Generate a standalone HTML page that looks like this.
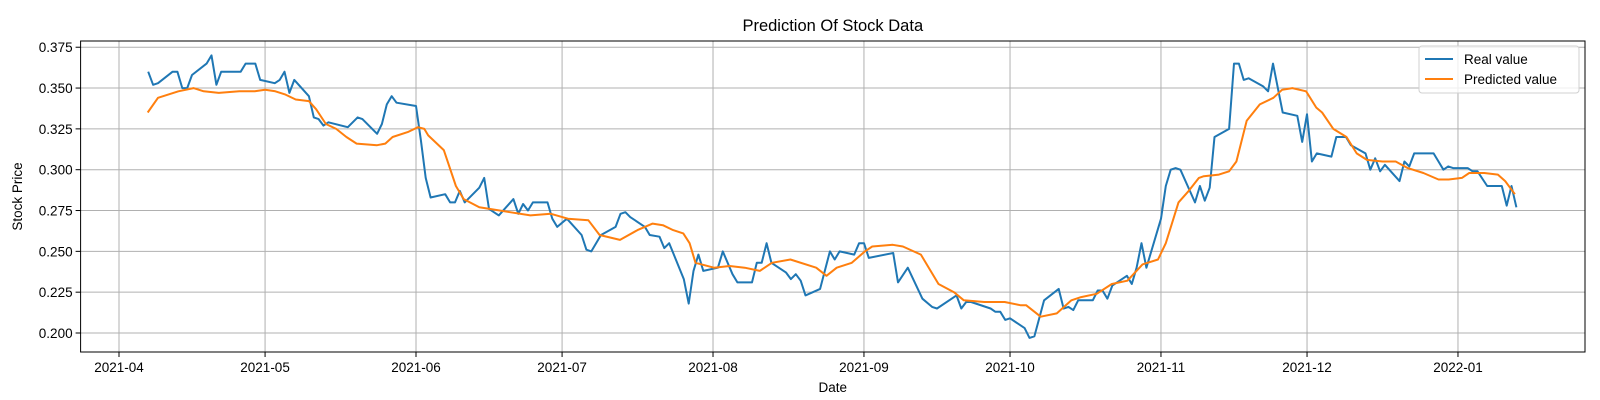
<!DOCTYPE html>
<html><head><meta charset="utf-8"><style>
html,body{margin:0;padding:0;background:#fff;}
svg{display:block;font-family:"Liberation Sans","DejaVu Sans",sans-serif;}
</style></head><body>
<svg id="chart" width="1600" height="400" viewBox="0 0 1600 400" xmlns="http://www.w3.org/2000/svg"></svg>
<script>
const startDate = "2021-04-01";
const monthTicks = ["2021-04","2021-05","2021-06","2021-07","2021-08","2021-09","2021-10","2021-11","2021-12","2022-01"];
const monthTickDays = [0,30,61,91,122,153,183,214,244,275];
const yTicks = [0.200,0.225,0.250,0.275,0.300,0.325,0.350,0.375];
const realDays = [6,7,8,11,12,13,14,15,18,19,20,21,25,26,28,29,32,33,34,35,36,39,40,41,42,43,47,49,50,53,54,55,56,57,61,62,63,64,67,68,69,70,71,74,75,76,78,81,82,83,84,85,88,89,90,92,95,96,97,99,102,103,104,105,106,108,109,111,112,113,116,117,118,119,120,123,124,126,127,130,131,132,133,134,137,138,139,140,141,144,146,147,148,151,152,153,154,159,160,162,165,167,168,172,173,174,175,179,180,181,182,183,186,187,188,190,193,194,195,196,197,200,201,202,203,204,207,208,209,210,211,214,215,216,217,218,221,222,223,224,225,228,229,230,231,232,235,236,237,239,242,243,244,245,246,249,250,252,253,256,257,258,259,260,263,264,265,266,270,271,272,273,274,277,278,279,281,284,285,286,287];
const realValues = [.360,.352,.353,.360,.360,.350,.350,.358,.365,.370,.352,.360,.360,.365,.365,.355,.353,.355,.360,.347,.355,.345,.332,.331,.327,.329,.326,.332,.331,.322,.328,.340,.345,.341,.339,.318,.295,.283,.285,.280,.280,.287,.280,.289,.295,.276,.272,.282,.273,.279,.275,.280,.280,.270,.265,.270,.260,.251,.250,.260,.265,.273,.274,.271,.269,.265,.260,.259,.252,.255,.233,.218,.238,.248,.238,.240,.250,.236,.231,.231,.243,.243,.255,.243,.237,.233,.236,.232,.223,.227,.250,.245,.250,.248,.255,.255,.246,.249,.231,.240,.221,.216,.215,.223,.215,.219,.219,.215,.213,.213,.208,.209,.203,.197,.198,.220,.227,.215,.216,.214,.220,.220,.226,.226,.221,.229,.235,.230,.240,.255,.240,.270,.290,.300,.301,.300,.280,.290,.281,.289,.320,.325,.365,.365,.355,.356,.351,.348,.365,.335,.333,.317,.334,.305,.310,.308,.320,.320,.315,.310,.300,.307,.299,.303,.293,.305,.302,.310,.310,.305,.300,.302,.301,.301,.299,.299,.290,.290,.278,.290,.277];
const predDays = [5.9,8.0,10.1,12.2,15.3,17.4,20.5,24.7,27.9,30.0,32.1,34.2,36.3,39.0,40.5,42.5,44.6,46.7,48.8,53.0,54.7,56.2,59.3,61.4,62.7,63.5,66.7,69.2,70.8,74.0,76.1,80.3,84.5,88.7,92.2,96.4,98.7,102.9,106.5,109.6,111.7,113.8,115.9,117.2,118.4,122.2,125.4,128.5,131.6,134.1,137.9,143.2,145.3,147.4,150.5,153.2,154.7,158.9,161.0,164.7,168.3,171.5,173.5,177.7,181.9,185.1,186.3,189.3,192.6,195.6,197.6,200.8,203.9,207.1,210.2,213.4,215.0,217.6,219.7,221.8,222.8,225.9,228.0,229.5,231.6,234.3,237.1,238.9,241.0,243.8,245.9,247.1,249.4,252.1,254.2,256.3,259.5,262.2,264.7,267.9,271.0,273.1,275.8,277.3,280.4,283.2,284.7,286.7];
const predValues = [.335,.344,.346,.348,.350,.348,.347,.348,.348,.349,.348,.346,.343,.342,.337,.328,.325,.320,.316,.315,.316,.320,.323,.326,.325,.321,.312,.290,.282,.277,.276,.274,.272,.273,.270,.269,.260,.257,.263,.267,.266,.263,.261,.255,.243,.240,.241,.240,.238,.243,.245,.240,.235,.240,.243,.250,.253,.254,.253,.248,.230,.225,.220,.219,.219,.217,.217,.210,.212,.220,.222,.224,.230,.232,.242,.245,.255,.280,.287,.295,.296,.297,.299,.305,.330,.340,.344,.349,.350,.348,.338,.335,.325,.320,.310,.306,.305,.305,.301,.298,.294,.294,.295,.298,.298,.297,.293,.285];

const NS="http://www.w3.org/2000/svg";
const svg=document.getElementById('chart');
const L=80.6,R=1585,T=41,B=352;
function xs(d){return 119+4.869*d;}
function ys(v){return 333-(v-0.2)*1633;}
function mk(tag,attrs,parent){const e=document.createElementNS(NS,tag);for(const k in attrs)e.setAttribute(k,attrs[k]);(parent||svg).appendChild(e);return e;}

const grid=mk('g',{});


monthTickDays.forEach((d,i)=>{
  const x=xs(d);
  const gl=mk('line',{x1:x,x2:x,y1:T,y2:B,stroke:'#b0b0b0','stroke-width':1},grid);
  
  
  const tk=mk('line',{x1:x,x2:x,y1:B,y2:B+5,stroke:'#000','stroke-width':1});
  
  
  const t=mk('text',{x:x,y:B+20,'text-anchor':'middle','font-size':13.5,fill:'#000'});
  t.textContent=monthTicks[i];
  
  
});
yTicks.forEach(v=>{
  const y=ys(v);
  const gl=mk('line',{x1:L,x2:R,y1:y,y2:y,stroke:'#b0b0b0','stroke-width':1},grid);
  
  
  const tk=mk('line',{x1:L-5,x2:L,y1:y,y2:y,stroke:'#000','stroke-width':1});
  
  
  const t=mk('text',{x:L-8,y:y+5,'text-anchor':'end','font-size':13.5,fill:'#000'});
  t.textContent=v.toFixed(3);
  
  
});
function line(days,vals,color,name){
  const p=days.map((d,i)=>xs(d).toFixed(1)+','+ys(vals[i]).toFixed(1)).join(' ');
  const pl=mk('polyline',{points:p,fill:'none',stroke:color,'stroke-width':2,'stroke-linejoin':'round'});
  
  
}
line(realDays,realValues,'#1f77b4','real-value-line');
line(predDays,predValues,'#ff7f0e','predicted-value-line');
const frame=mk('rect',{x:L,y:T,width:R-L,height:B-T,fill:'none',stroke:'#000','stroke-width':1});


const title=mk('text',{x:(L+R)/2,y:31,'text-anchor':'middle','font-size':16.5,fill:'#000'});
title.textContent='Prediction Of Stock Data';


const xl=mk('text',{x:(L+R)/2,y:392,'text-anchor':'middle','font-size':13.5,fill:'#000'});
xl.textContent='Date';


const yl=mk('text',{x:0,y:0,'text-anchor':'middle','font-size':13.5,fill:'#000',transform:'translate(22,'+((T+B)/2)+') rotate(-90)'});
yl.textContent='Stock Price';


const lg=mk('g',{});


mk('rect',{x:1419,y:46,width:160,height:47,rx:3,fill:'#fff','fill-opacity':0.8,stroke:'#d0d0d0'},lg);
[['Real value','#1f77b4'],['Predicted value','#ff7f0e']].forEach((e,i)=>{
  const y=59+i*20;
  const s=mk('line',{x1:1425,x2:1453,y1:y,y2:y,stroke:e[1],'stroke-width':2},lg);
  
  
  const t=mk('text',{x:1464,y:y+5,'font-size':13.5,fill:'#000'},lg);
  t.textContent=e[0];
  
  
});
</script>
</body></html>
